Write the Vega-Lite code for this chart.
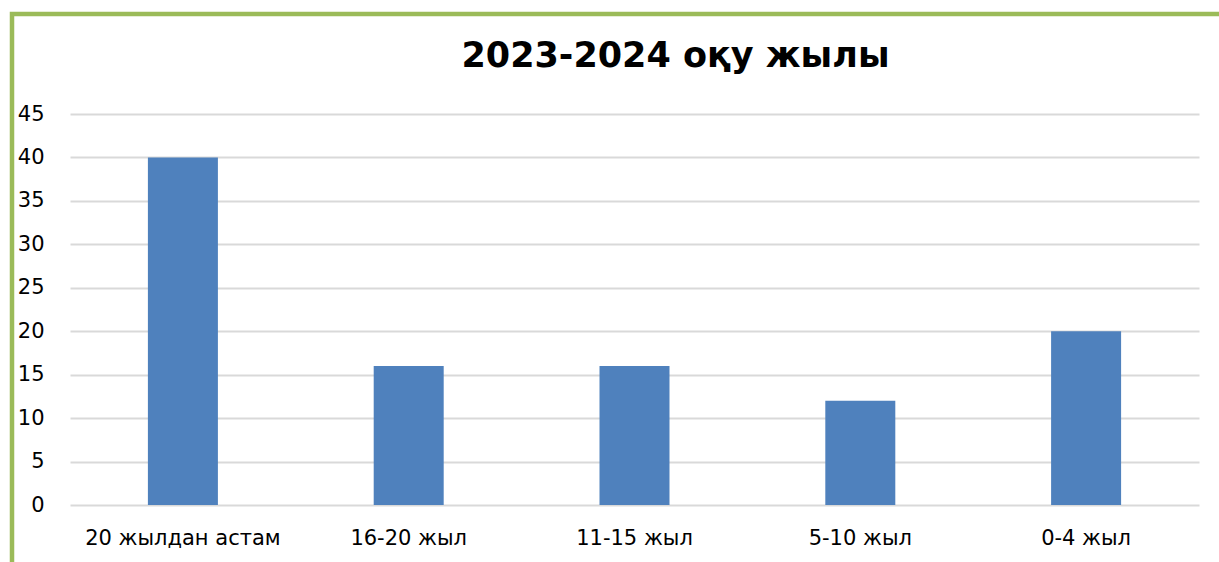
{
  "$schema": "https://vega.github.io/schema/vega-lite/v6.json",
  "autosize": {"type": "none"},
  "padding": {"left": 12, "top": 14, "right": 0, "bottom": 0},
  "width": 1207,
  "height": 548,
  "background": "white",
  "config": {
    "font": "DejaVu Sans",
    "view": {
      "stroke": "#9bbb59",
      "strokeWidth": 4.5,
      "strokeCap": "square",
      "strokeDash": [1207, 1755, 548],
      "fill": "white"
    }
  },
  "title": {
    "text": "2023-2024 оқу жылы",
    "fontSize": 35,
    "fontWeight": "bold",
    "color": "#000000",
    "frame": "group",
    "anchor": "middle",
    "baseline": "alphabetic",
    "dx": 60,
    "offset": -88
  },
  "data": {
    "values": [
      {"category": "20 жылдан астам", "value": 40},
      {"category": "16-20 жыл", "value": 16},
      {"category": "11-15 жыл", "value": 16},
      {"category": "5-10 жыл", "value": 12},
      {"category": "0-4 жыл", "value": 20}
    ]
  },
  "mark": {"type": "bar", "color": "#4f81bd"},
  "encoding": {
    "x": {
      "field": "category",
      "type": "nominal",
      "sort": null,
      "scale": {"range": [58, 1187], "paddingInner": 0.69, "paddingOuter": 0.345},
      "axis": {
        "title": null,
        "orient": "bottom",
        "domain": false,
        "ticks": false,
        "labelAngle": 0,
        "labelFontSize": 21,
        "labelLimit": 0,
        "labelColor": "#000000",
        "labelPadding": -35,
        "grid": false
      }
    },
    "y": {
      "field": "value",
      "type": "quantitative",
      "scale": {"domain": [-6.56, 56.51], "nice": false, "zero": false},
      "axis": {
        "title": null,
        "orient": "left",
        "values": [0, 5, 10, 15, 20, 25, 30, 35, 40, 45],
        "domain": false,
        "ticks": false,
        "labelFontSize": 21,
        "labelColor": "#000000",
        "labelPadding": -32,
        "grid": true,
        "gridColor": "#d9d9d9",
        "gridWidth": 2
      }
    },
    "y2": {"datum": 0}
  }
}
